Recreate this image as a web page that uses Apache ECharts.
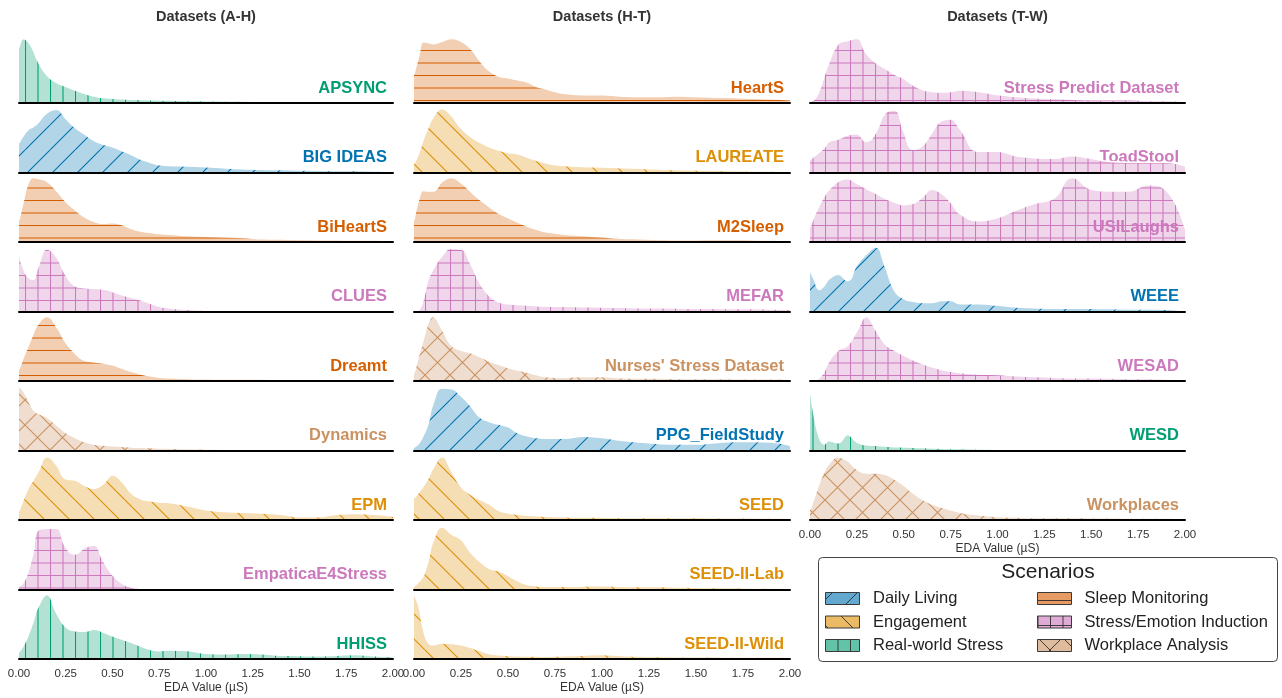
<!DOCTYPE html>
<html>
<head>
<meta charset="utf-8">
<title>EDA value distributions by dataset</title>
<script src="https://cdn.jsdelivr.net/npm/echarts@6/dist/echarts.min.js"></script>
<style>
  html, body { margin: 0; padding: 0; background: #fff; }
  #chart { width: 1282px; height: 698px; }
</style>
</head>
<body>
<div id="chart"></div>
<script>
// ---- Data -------------------------------------------------------------
// Shared EDA sample grid (µS) and normalised density per dataset (peak = 1).
const EDA_X = [0, 0.025, 0.05, 0.075, 0.1, 0.15, 0.2, 0.25, 0.3, 0.35, 0.4, 0.45, 0.5, 0.55, 0.6, 0.65, 0.7, 0.75, 0.8,
               0.9, 1.0, 1.1, 1.2, 1.3, 1.4, 1.5, 1.6, 1.7, 1.8, 1.9, 2.0];
const TICK_LABELS = ['0.00', '0.25', '0.50', '0.75', '1.00', '1.25', '1.50', '1.75', '2.00'];
const COLUMN_TITLES = ['Datasets (A-H)', 'Datasets (H-T)', 'Datasets (T-W)'];

const SCENARIOS = ['Daily Living', 'Engagement', 'Real-world Stress', 'Sleep Monitoring', 'Stress/Emotion Induction', 'Workplace Analysis'];
const SCENARIO_COLORS = ['#0173b2', '#de8f05', '#029e73', '#d55e00', '#cc78bc', '#ca9161'];
const SCENARIO_HATCH = ['/', '\\', '|', '-', '+', 'x'];

const APSYNC = [0.86, 1.0, 0.95, 0.83, 0.66, 0.43, 0.32, 0.26, 0.2, 0.15, 0.11, 0.085, 0.075, 0.065, 0.06, 0.055, 0.05, 0.048, 0.045, 0.04, 0.035, 0.032, 0.03, 0.027, 0.025, 0.022, 0.02, 0.02, 0.02, 0.018, 0.015];
const BIG_IDEAS = [0.46, 0.58, 0.67, 0.71, 0.77, 0.93, 0.98, 0.84, 0.7, 0.6, 0.5, 0.44, 0.4, 0.34, 0.28, 0.21, 0.16, 0.12, 0.11, 0.1, 0.09, 0.07, 0.06, 0.05, 0.045, 0.04, 0.035, 0.03, 0.03, 0.025, 0.02];
const BIHEARTS = [0.34, 0.66, 0.92, 1.0, 0.99, 0.94, 0.8, 0.63, 0.5, 0.39, 0.32, 0.29, 0.3, 0.27, 0.21, 0.17, 0.15, 0.13, 0.12, 0.1, 0.09, 0.08, 0.07, 0.05, 0.045, 0.04, 0.035, 0.035, 0.03, 0.03, 0.025];
const CLUES = [0.9, 0.66, 0.53, 0.5, 0.68, 0.97, 0.85, 0.57, 0.4, 0.37, 0.36, 0.35, 0.31, 0.26, 0.22, 0.18, 0.13, 0.08, 0.06, 0.035, 0.02, 0.01, 0.005, 0, 0, 0, 0, 0, 0, 0, 0];
const DREAMT = [0.18, 0.38, 0.55, 0.73, 0.88, 1.0, 0.85, 0.6, 0.43, 0.32, 0.3, 0.28, 0.25, 0.2, 0.15, 0.11, 0.08, 0.06, 0.05, 0.04, 0.035, 0.03, 0.03, 0.03, 0.025, 0.025, 0.02, 0.02, 0.02, 0.015, 0.01];
const DYNAMICS = [1.0, 0.92, 0.78, 0.64, 0.58, 0.52, 0.4, 0.28, 0.2, 0.14, 0.1, 0.085, 0.075, 0.065, 0.055, 0.05, 0.045, 0.04, 0.035, 0.03, 0.025, 0.02, 0.015, 0.01, 0.01, 0.005, 0, 0, 0, 0, 0];
const EPM = [0.14, 0.33, 0.5, 0.62, 0.74, 0.98, 0.86, 0.64, 0.62, 0.54, 0.49, 0.56, 0.7, 0.6, 0.42, 0.33, 0.3, 0.28, 0.27, 0.22, 0.16, 0.13, 0.12, 0.11, 0.09, 0.05, 0.05, 0.09, 0.1, 0.09, 0.06];
const EMPATICA_E4 = [0.05, 0.12, 0.3, 0.57, 0.92, 0.95, 0.95, 0.66, 0.55, 0.65, 0.69, 0.45, 0.23, 0.1, 0.04, 0.02, 0.01, 0.01, 0.01, 0.02, 0.01, 0.005, 0.005, 0.005, 0.01, 0.015, 0.01, 0.02, 0.015, 0.005, 0.005];
const HHISS = [0.11, 0.22, 0.38, 0.58, 0.8, 1.0, 0.72, 0.5, 0.44, 0.43, 0.46, 0.42, 0.36, 0.31, 0.26, 0.2, 0.15, 0.13, 0.14, 0.13, 0.09, 0.08, 0.09, 0.08, 0.06, 0.055, 0.05, 0.06, 0.07, 0.05, 0.04];

const HEARTS = [0.45, 0.73, 0.95, 0.94, 0.92, 0.96, 1.0, 0.96, 0.85, 0.66, 0.5, 0.42, 0.39, 0.36, 0.33, 0.26, 0.22, 0.18, 0.15, 0.13, 0.13, 0.11, 0.1, 0.1, 0.11, 0.1, 0.09, 0.085, 0.075, 0.065, 0.05];
const LAUREATE = [0.14, 0.3, 0.52, 0.7, 0.85, 0.99, 0.88, 0.69, 0.56, 0.47, 0.4, 0.35, 0.31, 0.29, 0.24, 0.19, 0.15, 0.12, 0.11, 0.095, 0.085, 0.075, 0.065, 0.055, 0.045, 0.04, 0.035, 0.03, 0.025, 0.025, 0.02];
const M2SLEEP = [0.34, 0.66, 0.8, 0.79, 0.79, 0.94, 1.0, 0.92, 0.79, 0.66, 0.55, 0.45, 0.38, 0.31, 0.25, 0.2, 0.16, 0.14, 0.12, 0.1, 0.08, 0.06, 0.05, 0.04, 0.035, 0.035, 0.04, 0.04, 0.035, 0.03, 0.025];
const MEFAR = [0, 0.02, 0.2, 0.5, 0.65, 0.87, 0.98, 0.97, 0.75, 0.45, 0.25, 0.15, 0.12, 0.11, 0.1, 0.09, 0.085, 0.08, 0.08, 0.075, 0.07, 0.065, 0.06, 0.06, 0.055, 0.05, 0.05, 0.045, 0.045, 0.04, 0.035];
const NURSES = [0.12, 0.4, 0.65, 0.9, 1.0, 0.8, 0.55, 0.48, 0.44, 0.38, 0.31, 0.26, 0.21, 0.17, 0.14, 0.1, 0.07, 0.06, 0.06, 0.07, 0.07, 0.05, 0.045, 0.045, 0.04, 0.04, 0.04, 0.035, 0.035, 0.035, 0.03];
const PPG_FIELDSTUDY = [0.05, 0.11, 0.24, 0.42, 0.72, 0.97, 0.96, 0.85, 0.7, 0.52, 0.45, 0.41, 0.37, 0.28, 0.23, 0.2, 0.19, 0.19, 0.19, 0.22, 0.2, 0.16, 0.13, 0.11, 0.1, 0.1, 0.12, 0.14, 0.14, 0.13, 0.08];
const SEED = [0.34, 0.43, 0.53, 0.65, 0.8, 0.98, 0.76, 0.52, 0.4, 0.32, 0.25, 0.15, 0.11, 0.09, 0.075, 0.065, 0.06, 0.055, 0.05, 0.045, 0.045, 0.04, 0.04, 0.04, 0.04, 0.04, 0.035, 0.035, 0.035, 0.03, 0.03];
const SEED_II_LAB = [0.05, 0.12, 0.22, 0.45, 0.74, 0.97, 0.86, 0.78, 0.58, 0.44, 0.33, 0.29, 0.22, 0.14, 0.08, 0.06, 0.05, 0.05, 0.05, 0.055, 0.06, 0.05, 0.045, 0.045, 0.04, 0.035, 0.03, 0.03, 0.025, 0.025, 0.02];
const SEED_II_WILD = [1.0, 0.83, 0.46, 0.26, 0.22, 0.25, 0.24, 0.22, 0.18, 0.13, 0.085, 0.065, 0.055, 0.05, 0.045, 0.045, 0.042, 0.045, 0.05, 0.06, 0.068, 0.055, 0.045, 0.04, 0.035, 0.035, 0.035, 0.03, 0.03, 0.03, 0.03];

const STRESS_PREDICT = [0.02, 0.06, 0.2, 0.42, 0.62, 0.92, 0.97, 1.0, 0.77, 0.63, 0.54, 0.45, 0.38, 0.28, 0.21, 0.18, 0.17, 0.18, 0.2, 0.18, 0.13, 0.1, 0.08, 0.07, 0.06, 0.05, 0.05, 0.05, 0.04, 0.04, 0.03];
const TOADSTOOL = [0.2, 0.26, 0.32, 0.38, 0.48, 0.52, 0.58, 0.6, 0.48, 0.62, 0.92, 0.97, 0.64, 0.36, 0.42, 0.62, 0.8, 0.83, 0.68, 0.33, 0.33, 0.26, 0.23, 0.22, 0.26, 0.22, 0.17, 0.16, 0.16, 0.16, 0.1];
const USILAUGHS = [0.23, 0.42, 0.57, 0.71, 0.81, 0.94, 0.98, 0.91, 0.83, 0.76, 0.68, 0.62, 0.58, 0.6, 0.7, 0.82, 0.76, 0.62, 0.44, 0.33, 0.38, 0.5, 0.6, 0.68, 1.0, 0.82, 0.79, 0.79, 0.89, 0.8, 0.21];
const WEEE = [0.64, 0.48, 0.34, 0.4, 0.5, 0.58, 0.48, 0.73, 0.89, 1.0, 0.71, 0.33, 0.2, 0.16, 0.14, 0.14, 0.17, 0.17, 0.12, 0.12, 0.1, 0.07, 0.06, 0.05, 0.05, 0.05, 0.045, 0.04, 0.04, 0.035, 0.03];
const WESAD = [0, 0.01, 0.05, 0.15, 0.3, 0.48, 0.55, 0.78, 1.0, 0.8, 0.58, 0.48, 0.4, 0.33, 0.27, 0.22, 0.18, 0.15, 0.13, 0.11, 0.1, 0.08, 0.07, 0.06, 0.05, 0.05, 0.045, 0.04, 0.04, 0.03, 0.02];
const WESD = [0.97, 0.5, 0.2, 0.1, 0.15, 0.12, 0.25, 0.13, 0.09, 0.08, 0.07, 0.06, 0.055, 0.05, 0.045, 0.04, 0.035, 0.03, 0.03, 0.025, 0.02, 0.02, 0.015, 0.015, 0.01, 0.01, 0.01, 0.01, 0.01, 0.01, 0.01];
const WORKPLACES = [0.16, 0.37, 0.58, 0.75, 0.87, 0.98, 0.92, 0.79, 0.73, 0.73, 0.71, 0.64, 0.54, 0.42, 0.32, 0.25, 0.2, 0.16, 0.12, 0.08, 0.055, 0.045, 0.04, 0.04, 0.04, 0.035, 0.035, 0.03, 0.03, 0.03, 0.025];

// Ridges per column: [label, scenario, density]
const COLUMNS = [
  [
    ['APSYNC', 'Real-world Stress', APSYNC],
    ['BIG IDEAS', 'Daily Living', BIG_IDEAS],
    ['BiHeartS', 'Sleep Monitoring', BIHEARTS],
    ['CLUES', 'Stress/Emotion Induction', CLUES],
    ['Dreamt', 'Sleep Monitoring', DREAMT],
    ['Dynamics', 'Workplace Analysis', DYNAMICS],
    ['EPM', 'Engagement', EPM],
    ['EmpaticaE4Stress', 'Stress/Emotion Induction', EMPATICA_E4],
    ['HHISS', 'Real-world Stress', HHISS]
  ],
  [
    ['HeartS', 'Sleep Monitoring', HEARTS],
    ['LAUREATE', 'Engagement', LAUREATE],
    ['M2Sleep', 'Sleep Monitoring', M2SLEEP],
    ['MEFAR', 'Stress/Emotion Induction', MEFAR],
    ["Nurses' Stress Dataset", 'Workplace Analysis', NURSES],
    ['PPG_FieldStudy', 'Daily Living', PPG_FIELDSTUDY],
    ['SEED', 'Engagement', SEED],
    ['SEED-II-Lab', 'Engagement', SEED_II_LAB],
    ['SEED-II-Wild', 'Engagement', SEED_II_WILD]
  ],
  [
    ['Stress Predict Dataset', 'Stress/Emotion Induction', STRESS_PREDICT],
    ['ToadStool', 'Stress/Emotion Induction', TOADSTOOL],
    ['USILaughs', 'Stress/Emotion Induction', USILAUGHS],
    ['WEEE', 'Daily Living', WEEE],
    ['WESAD', 'Stress/Emotion Induction', WESAD],
    ['WESD', 'Real-world Stress', WESD],
    ['Workplaces', 'Workplace Analysis', WORKPLACES]
  ]
];

// ---- Layout ------------------------------------------------------------
const FONT = '"Liberation Sans", Arial, sans-serif';
const COL_LEFT = [19, 414, 810];
const COL_RIGHT = [393, 790, 1185];
const ROW0 = 103;        // baseline of the first ridge
const ROW_STEP = 69.5;   // distance between ridge baselines
const RIDGE_H = 67;      // grid height of one ridge
const Y_MAX = 1.04;

// ---- Hatched fills -----------------------------------------------------
function rgba(hex, a) {
  const n = parseInt(hex.slice(1), 16);
  return `rgba(${(n >> 16) & 255},${(n >> 8) & 255},${n & 255},${a})`;
}
function hatchTile(fill, stroke, kind, size, lw) {
  const cv = document.createElement('canvas');
  cv.width = cv.height = size;
  const g = cv.getContext('2d');
  g.fillStyle = fill;
  g.fillRect(0, 0, size, size);
  g.strokeStyle = stroke;
  g.lineWidth = lw;
  const h = size / 2;
  g.beginPath();
  if (kind === '|' || kind === '+') {
    g.moveTo(0.5, 0); g.lineTo(0.5, size);
    g.moveTo(h + 0.5, 0); g.lineTo(h + 0.5, size);
  }
  if (kind === '-' || kind === '+') {
    g.moveTo(0, 0.5); g.lineTo(size, 0.5);
    g.moveTo(0, h + 0.5); g.lineTo(size, h + 0.5);
  }
  for (let k = -1; k <= 1; k++) {
    if (kind === '/' || kind === 'x') { g.moveTo(k * size, size); g.lineTo(k * size + size, 0); }
    if (kind === '\\' || kind === 'x') { g.moveTo(k * size, 0); g.lineTo(k * size + size, size); }
  }
  g.stroke();
  return cv;
}
const areaTiles = SCENARIOS.map((s, i) =>
  hatchTile(rgba(SCENARIO_COLORS[i], 0.3), SCENARIO_COLORS[i], SCENARIO_HATCH[i], 25, 1.1));
const legendTiles = SCENARIOS.map((s, i) =>
  hatchTile(rgba(SCENARIO_COLORS[i], 0.62), 'rgba(40,40,40,0.85)', SCENARIO_HATCH[i], 25, 1));

// ---- Build option ------------------------------------------------------
const grids = [], xAxes = [], yAxes = [], series = [], graphics = [];

COLUMN_TITLES.forEach((t, c) => {
  graphics.push({
    type: 'text', x: (COL_LEFT[c] + COL_RIGHT[c]) / 2, y: 17, z: 1,
    style: { text: t, fill: '#333', font: `bold 14.5px ${FONT}`, align: 'center', verticalAlign: 'middle' }
  });
});

COLUMNS.forEach((col, c) => {
  col.forEach(([name, scen, dens], r) => {
    const base = ROW0 + ROW_STEP * r;
    const idx = grids.length;
    const isLast = r === col.length - 1;
    const s = SCENARIOS.indexOf(scen);
    grids.push({
      left: COL_LEFT[c], width: COL_RIGHT[c] - COL_LEFT[c],
      top: base - RIDGE_H, height: RIDGE_H,
      containLabel: false, outerBoundsMode: 'none'
    });
    xAxes.push({
      gridIndex: idx, type: 'value', min: 0, max: 2, interval: 0.25, z: 5,
      axisLine: { show: true, onZero: false, lineStyle: { color: '#000', width: 2 } },
      axisTick: { show: false }, splitLine: { show: false },
      axisLabel: {
        show: isLast, margin: 9, fontSize: 11.5, color: '#333', fontFamily: FONT,
        formatter: v => TICK_LABELS[Math.round(v / 0.25)]
      },
      name: isLast ? 'EDA Value (µS)' : '', nameLocation: 'middle', nameGap: 23,
      nameTextStyle: { fontSize: 12, color: '#333', fontFamily: FONT }
    });
    yAxes.push({ gridIndex: idx, type: 'value', min: 0, max: Y_MAX, show: false });
    series.push({
      type: 'line', name, xAxisIndex: idx, yAxisIndex: idx,
      data: EDA_X.map((x, j) => [x, dens[j]]),
      smooth: 0.5, showSymbol: false, silent: true, z: 2,
      lineStyle: { color: '#fff', width: 1.5 },
      areaStyle: { color: { image: areaTiles[s], repeat: 'repeat' }, opacity: 1 }
    });
    graphics.push({
      type: 'text', x: COL_RIGHT[c] - 6, y: base - 15, z: 0,
      style: { text: name, fill: SCENARIO_COLORS[s], font: `bold 16.5px ${FONT}`, align: 'right', verticalAlign: 'middle' }
    });
  });
});

// Legend box
graphics.push({
  type: 'rect', z: 10,
  shape: { x: 818.5, y: 557.5, width: 459, height: 104, r: 4 },
  style: { fill: '#fff', stroke: '#444', lineWidth: 1 }
});
graphics.push({
  type: 'text', x: 1048, y: 572, z: 11,
  style: { text: 'Scenarios', fill: '#222', font: `21px ${FONT}`, align: 'center', verticalAlign: 'middle' }
});
SCENARIOS.forEach((s, i) => {
  const col = Math.floor(i / 3), row = i % 3;
  const iy = 592.5 + row * 23.5;
  graphics.push({
    type: 'rect', z: 11,
    shape: { x: col ? 1037.5 : 825.5, y: iy, width: 34, height: 12 },
    style: { fill: { image: legendTiles[i], repeat: 'repeat' }, stroke: '#3a3a3a', lineWidth: 1 }
  });
  graphics.push({
    type: 'text', x: col ? 1084.5 : 873, y: iy + 6, z: 11,
    style: { text: s, fill: '#222', font: `16.5px ${FONT}`, align: 'left', verticalAlign: 'middle' }
  });
});

const chart = echarts.init(document.getElementById('chart'), null, { renderer: 'canvas' });
chart.setOption({
  animation: false,
  backgroundColor: '#fff',
  grid: grids,
  xAxis: xAxes,
  yAxis: yAxes,
  series: series,
  graphic: { elements: graphics }
});
</script>
</body>
</html>
